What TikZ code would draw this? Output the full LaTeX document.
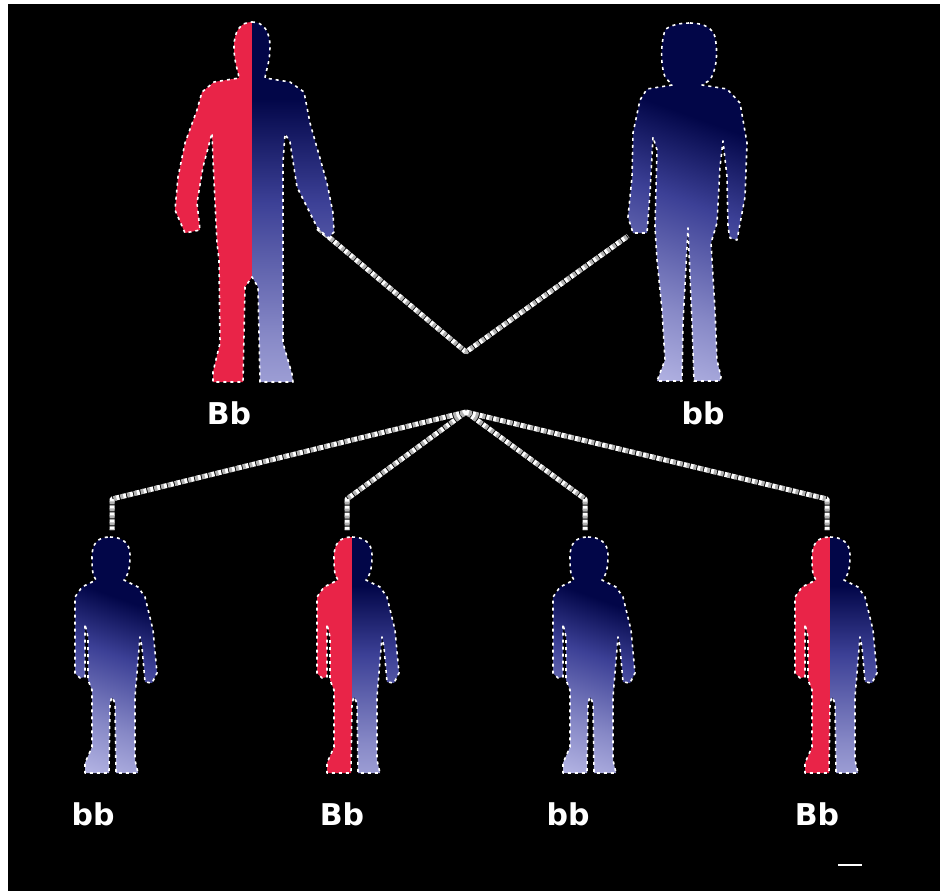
\documentclass[tikz,border=0pt]{standalone}
\usepackage{fontspec}
\newfontfamily\genfont{DejaVu Sans}
\definecolor{dothan}{RGB}{233,36,72}
\definecolor{xanhdam}{RGB}{2,6,72}
\definecolor{xanhvua}{RGB}{60,64,150}
\definecolor{tim}{RGB}{196,196,238}
\pgfdeclareverticalshading{xanhnguoi}{100bp}{color(0bp)=(tim); color(14bp)=(tim); color(32bp)=(tim!55!xanhvua); color(50bp)=(xanhvua); color(64bp)=(xanhdam); color(100bp)=(xanhdam)}
%%% duong vien cac hinh nguoi (goc o dinh dau, truc y huong xuong)
\def\bohinh{(0,0) .. controls (12,0) and (18,10) .. (18,25) .. controls (18,40) and (14,48) .. (13,56) -- (38,60) -- (52,70) -- (58,101) -- (75,161) -- (81,191) -- (82,210) -- (76,216) -- (65,205) -- (45,165) -- (38,120) -- (33,112) -- (31,140) -- (31,241) -- (31,321) -- (40,352) -- (41,360) -- (8,360) -- (6,265) -- (0,255) -- (-7,265) -- (-9,360) -- (-39,360) -- (-39,350) -- (-32,321) -- (-33,238) -- (-35,221) -- (-39,138) -- (-40,111) -- (-49,145) -- (-55,181) -- (-52,208) -- (-67,211) -- (-77,188) -- (-74,155) -- (-67,121) -- (-55,88) -- (-50,70) -- (-38,60) -- (-13,56) .. controls (-14,48) and (-18,40) .. (-18,25) .. controls (-18,10) and (-12,0) .. (0,0) -- cycle}
\def\mehinh{(0,0) .. controls (15,0) and (23,6) .. (25,14) .. controls (28,30) and (27,45) .. (20,57) -- (12,62) -- (37,66) -- (50,80) -- (57,120) -- (55,174) -- (47,217) -- (40,215) -- (38,204) -- (37,154) -- (33,118) -- (30,144) -- (27,200) -- (21,220) -- (25,287) -- (27,337) -- (31,354) -- (30,358) -- (4,358) -- (2,300) -- (-2,205) -- (-7,300) -- (-8,358) -- (-33,358) -- (-30,350) -- (-25,337) -- (-28,287) -- (-33,237) -- (-35,204) -- (-33,127) -- (-37,114) -- (-40,170) -- (-43,210) -- (-57,210) -- (-62,194) -- (-58,154) -- (-57,110) -- (-50,77) -- (-43,66) -- (-18,62) -- (-25,54) .. controls (-30,40) and (-29,20) .. (-25,7) .. controls (-20,2) and (-10,0) .. (0,0) -- cycle}
\def\conhinh{(0,0) .. controls (12,0) and (20,6) .. (20,18) .. controls (20,32) and (18,38) .. (14,43) -- (28,50) -- (35,60) -- (43,93) -- (47,136) -- (42,146) -- (35,145) -- (32,110) -- (30,100) -- (27,136) -- (25,160) -- (25,223) -- (28,236) -- (6,236) -- (5,166) -- (2,160) -- (0,166) -- (-1,236) -- (-25,236) -- (-25,226) -- (-18,210) -- (-18,153) -- (-22,143) -- (-22,100) -- (-25,87) -- (-25,140) -- (-30,141) -- (-35,136) -- (-35,93) -- (-35,60) -- (-28,50) -- (-14,43) .. controls (-18,38) and (-18,30) .. (-18,20) .. controls (-18,6) and (-12,0) .. (0,0) -- cycle}
\tikzset{
  day/.style={line width=5pt, white, line cap=butt, dash pattern=on 4pt off 3pt,
    postaction={draw=gray!60, line width=5pt, line cap=butt, dash pattern=on 3pt off 4pt, dash phase=4pt}},
  gen/.style={text=white, font=\genfont\bfseries\fontsize{30}{34}\selectfont},
  vien/.style={draw=white, line width=1.6pt, dash pattern=on 3pt off 4pt},
  bo/.pic={
    \begin{scope}
      \clip \bohinh;
      \fill[dothan] (-90,-5) rectangle (0,365);
      \shade[shading=xanhnguoi] (0,-5) rectangle (90,365);
    \end{scope}
    \draw[vien] \bohinh;
  },
  me/.pic={
    \shade[shading=xanhnguoi, shading angle=-20] \mehinh;
    \draw[vien] \mehinh;
  },
  condo/.pic={
    \begin{scope}
      \clip \conhinh;
      \fill[dothan] (-50,-5) rectangle (0,240);
      \shade[shading=xanhnguoi] (0,-5) rectangle (50,240);
    \end{scope}
    \draw[vien] \conhinh;
  },
  conxanh/.pic={
    \shade[shading=xanhnguoi, shading angle=-20] \conhinh;
    \draw[vien] \conhinh;
  },
}
\begin{document}
\begin{tikzpicture}[x=1pt,y=-1pt,line join=round]
  %%% nen
  \useasboundingbox (0,0) rectangle (940,891);
  \fill[white] (0,0) rectangle (940,891);
  \fill[black] (8,4) rectangle (940,891);
  %%% day noi bo me
  \coordinate (taybo) at (318,228);
  \coordinate (nut) at (466,352);
  \coordinate (tayme) at (628,236);
  \draw[day] (taybo) -- (nut) -- (tayme);
  %%% day xuong cac con
  \coordinate (tach) at (466,412);
  \foreach \i/\x in {1/112,2/347,3/585,4/827}{
    \coordinate (c\i) at (\x,499);
    \coordinate (d\i) at (\x,530);
    \draw[day] (tach) -- (c\i) -- (d\i);
  }
  %%% bo me
  \path (252,22) pic{bo} (690,23) pic{me};
  %%% cac con
  \path (110,537) pic{conxanh};
  \path (352,537) pic{condo};
  \path (588,537) pic{conxanh};
  \path (830,537) pic{condo};
  %%% kieu gen
  \node[gen] (gbo) at (229,413) {Bb};
  \node[gen] (gme) at (703,413) {bb};
  \foreach \x/\g [count=\i] in {93/bb,342/Bb,568/bb,817/Bb}
    \node[gen] (gc\i) at (\x,814) {\g};
  \draw[white, line width=2pt] (838,865) -- (862,865);
\end{tikzpicture}
\end{document}
